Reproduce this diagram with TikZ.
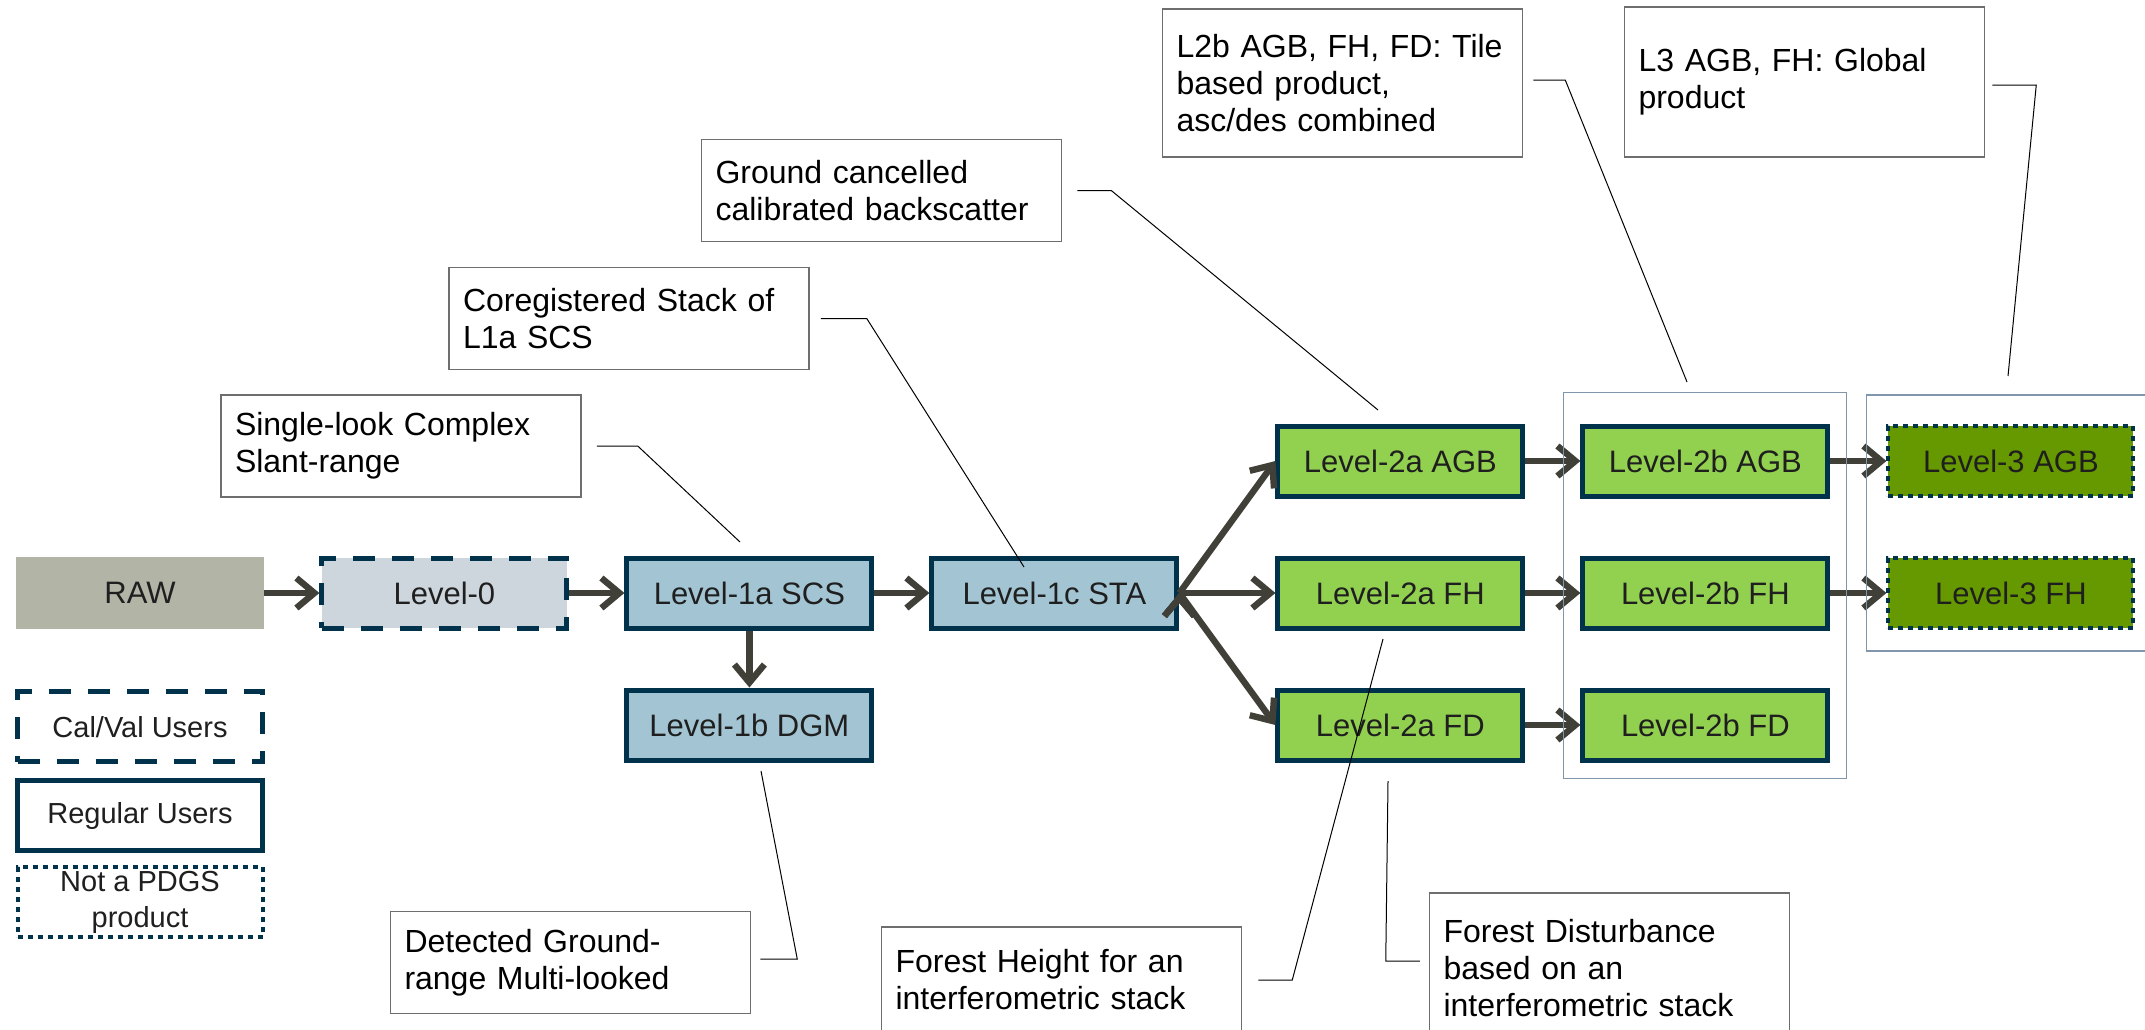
\documentclass[tikz,border=0pt]{standalone}
\usepackage{fontspec}
\setmainfont{Liberation Sans}
\usepackage{tikz}
\usetikzlibrary{arrows.meta, positioning}

\definecolor{rawgray}{RGB}{178,180,165}
\definecolor{zerofill}{RGB}{205,213,221}
\definecolor{onefill}{RGB}{163,197,211}
\definecolor{twofill}{RGB}{146,208,80}
\definecolor{threefill}{RGB}{102,153,0}
\definecolor{navy}{RGB}{0,50,75}
\definecolor{arrowgray}{RGB}{64,64,56}
\definecolor{groupline}{RGB}{128,150,170}
\definecolor{notegray}{RGB}{110,110,110}

\tikzset{
  lvlbox/.style={rectangle, minimum width=122.5pt, minimum height=35pt, inner sep=0pt,
    line width=2.5pt, draw=navy, text=black!88, font=\fontsize{15.5}{18}\selectfont},
  calvalbox/.style={lvlbox, dash pattern=on 11pt off 8.5pt},
  notpdgsbox/.style={lvlbox, line width=2pt, dash pattern=on 2.5pt off 2.5pt},
  rawbox/.style={rectangle, minimum width=124pt, minimum height=36pt, inner sep=0pt,
    fill=rawgray, text=black!88, font=\fontsize{15.5}{18}\selectfont},
  legendfont/.style={font=\fontsize{14.5}{18}\selectfont, align=center, fill=white},
  note/.style={rectangle, draw=notegray, line width=0.75pt, fill=white, text=black,
    text width=166pt, inner xsep=7pt, inner ysep=4pt, align=left, minimum height=51pt,
    font=\fontsize{16}{18.5}\selectfont},
  flow/.style={draw=arrowgray, line width=3.2pt, -{Straight Barb[length=9pt, width=15pt]}},
  group/.style={draw=groupline, line width=0.75pt},
  leader/.style={draw=black, line width=0.5pt}
}

\begin{document}
\begin{tikzpicture}[x=0.5pt, y=-0.5pt, node distance=28.5pt and 27.5pt]

\path [use as bounding box, fill=white] (0,0) rectangle (2145,1029);

% first row
\node [rawbox] (raw) at (140,593) {RAW};
\node [calvalbox, fill=zerofill, right=of raw] (lvlzero) {Level-0};
\node [lvlbox, fill=onefill, right=of lvlzero] (lvlonea) {Level-1a SCS};
\node [lvlbox, fill=onefill, right=of lvlonea] (lvlonec) {Level-1c STA};
\node [lvlbox, fill=onefill, below=of lvlonea] (lvloneb) {Level-1b DGM};

\path [flow] (raw)     edge (lvlzero);
\path [flow] (lvlzero) edge (lvlonea);
\path [flow] (lvlonea) edge (lvlonec);
\path [flow] (lvlonea) edge (lvloneb);

% level 2a
\node [lvlbox, fill=twofill, right=48pt of lvlonec] (ltwoafh)  {Level-2a FH};
\node [lvlbox, fill=twofill, above=of ltwoafh]      (ltwoaagb) {Level-2a AGB};
\node [lvlbox, fill=twofill, below=of ltwoafh]      (ltwoafd)  {Level-2a FD};

\path [flow] (lvlonec.east) edge (ltwoaagb.west);
\path [flow] (lvlonec.east) edge (ltwoafh.west);
\path [flow] (lvlonec.east) edge (ltwoafd.west);

% level 2b
\node [lvlbox, fill=twofill, right=of ltwoaagb] (ltwobagb) {Level-2b AGB};
\node [lvlbox, fill=twofill, right=of ltwoafh]  (ltwobfh)  {Level-2b FH};
\node [lvlbox, fill=twofill, right=of ltwoafd]  (ltwobfd)  {Level-2b FD};

\path [flow] (ltwoaagb) edge (ltwobagb);
\path [flow] (ltwoafh)  edge (ltwobfh);
\path [flow] (ltwoafd)  edge (ltwobfd);

% level 3
\node [notpdgsbox, fill=threefill, right=28pt of ltwobagb] (lthreeagb) {Level-3 AGB};
\node [notpdgsbox, fill=threefill, right=28pt of ltwobfh]  (lthreefh)  {Level-3 FH};

\path [flow] (ltwobagb) edge (lthreeagb);
\path [flow] (ltwobfh)  edge (lthreefh);

% groups
\draw [group] ([xshift=-8.5pt, yshift=15.5pt]ltwobagb.north west) rectangle ([xshift=8pt, yshift=-8pt]ltwobfd.south east);
\draw [group] ([xshift=-10pt, yshift=14.5pt]lthreeagb.north west) rectangle ([xshift=25pt, yshift=-10.5pt]lthreefh.south east);

% legend
\node [calvalbox, legendfont, below=30pt of raw]    (calval)  {Cal/Val Users};
\node [lvlbox, legendfont, below=7pt of calval]     (regular) {Regular Users};
\node [notpdgsbox, legendfont, below=6pt of regular] (notpdgs) {Not a PDGS\\product};

% notes
\node [note] (slcnote)   at (401,446)    {Single-look Complex\\Slant-range};
\node [note] (coregnote) at (629,318.5)  {Coregistered Stack of\\L1a SCS};
\node [note] (gcnote)    at (881.5,190.5) {Ground cancelled\\calibrated backscatter};
\node [note, minimum height=74pt] (ltwobnote)   at (1342.5,83) {L2b AGB, FH, FD: Tile\\based product,\\asc/des combined};
\node [note, minimum height=75pt] (lthreenote)  at (1804.5,82) {L3 AGB, FH: Global\\product};
\node [note] (dgmnote)   at (570.5,962.5) {Detected Ground-\\range Multi-looked};
\node [note, minimum height=53pt] (fhnote) at (1061.5,980) {Forest Height for an\\interferometric stack};
\node [note, minimum height=75pt] (fdnote) at (1609.5,968) {Forest Disturbance\\based on an\\interferometric stack};

% leaders
\coordinate (slctip)    at (740,542);
\coordinate (coregtip)  at (1024,567);
\coordinate (gctip)     at (1378,410);
\coordinate (ltwobtip)  at (1687,382);
\coordinate (lthreetip) at (2008,376);
\coordinate (dgmtip)    at (761,771);
\coordinate (fhtip)     at (1383,639);
\coordinate (fdtip)     at (1388,781);

\draw [leader] ([xshift=7.5pt]slcnote.east) -- ++(41,0) -- (slctip);
\draw [leader] ([xshift=5.5pt]coregnote.east) -- ++(46,0) -- (coregtip);
\draw [leader] ([xshift=7.5pt]gcnote.east) -- ++(34,0) -- (gctip);
\draw [leader] ([xshift=5pt, yshift=1.5pt]ltwobnote.east) -- ++(32,0) -- (ltwobtip);
\draw [leader] ([xshift=3.5pt, yshift=-1.5pt]lthreenote.east) -- ++(44,0) -- (lthreetip);
\draw [leader] ([xshift=4.5pt, yshift=1.75pt]dgmnote.east) -- ++(37,0) -- (dgmtip);
\draw [leader] ([xshift=8pt]fhnote.east) -- ++(34,0) -- (fhtip);
\draw [leader] ([xshift=-4.5pt, yshift=3.5pt]fdnote.west) -- ++(-34,0) -- (fdtip);

\end{tikzpicture}
\end{document}
